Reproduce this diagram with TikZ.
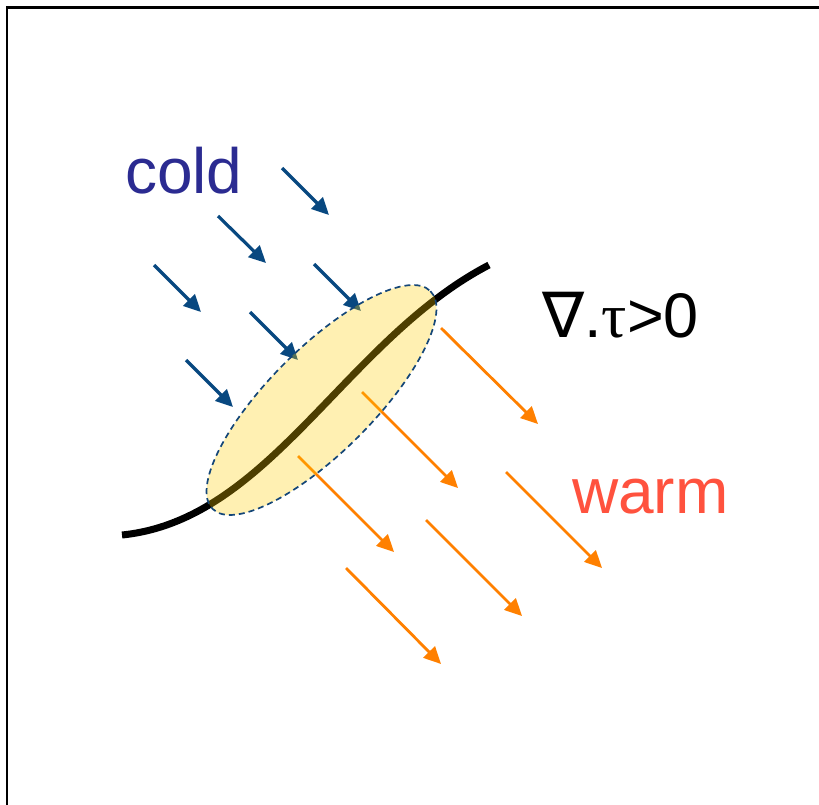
\documentclass[tikz,border=0pt]{standalone}
\usepackage{fontspec}
\setmainfont{Liberation Sans}
\newfontfamily\symfont{DejaVu Sans}
\newfontfamily\grkfont{Liberation Serif}
\usetikzlibrary{arrows.meta}
\definecolor{coldarrow}{RGB}{8,72,128}
\definecolor{warmarrow}{RGB}{255,128,0}
\definecolor{coldtext}{RGB}{43,43,145}
\definecolor{warmtext}{RGB}{255,82,62}
\definecolor{zonefill}{RGB}{255,206,0}
\definecolor{zoneedge}{RGB}{20,70,120}
\tikzset{
  coldflow/.style={draw=coldarrow, line width=3.2pt, -{Triangle[length=17pt,width=16pt]}},
  warmflow/.style={draw=warmarrow, line width=2.8pt, -{Triangle[length=17pt,width=16pt]}},
  front/.style={draw=black, line width=7pt},
  zone/.style={fill=zonefill, fill opacity=0.3, draw=zoneedge, draw opacity=1, dash pattern=on 6pt off 4pt, line width=1.7pt},
  lbl/.style={inner sep=0pt, anchor=base west}
}
\begin{document}
\begin{tikzpicture}[x=1pt,y=-1pt]
\useasboundingbox (0,0) rectangle (819,804);
\draw[line width=2.2pt] (7,830) -- (7,7.5) -- (840,7.5);
% text
\node[lbl, text=coldtext, font=\fontsize{64}{70}\selectfont] (cold) at (125,193) {cold};
\node[lbl, text=warmtext, font=\fontsize{64}{70}\selectfont] (warm) at (572,513) {warm};
\node[lbl, text=black, font=\fontsize{63}{70}\selectfont] (div) at (542,337) {{\symfont ∇}.{\grkfont τ}>0};
% cold arrows
\foreach \n/\xa/\ya/\xb/\yb in {c1/282/168/329/215, c2/218/216/266/263, c3/154/265/201/312, c4/314/264/361/311, c5/250/312/298/360, c6/186/360/233/407}{
  \coordinate (\n s) at (\xa,\ya);
  \coordinate (\n e) at (\xb,\yb);
  \draw[coldflow] (\n s) -- (\n e);
}
% front
\coordinate (fa) at (122,535);
\coordinate (fb) at (489,265);
\draw[front] (fa) .. controls (270,520) and (345,340) .. (fb);
% warm arrows
\foreach \n/\xa/\ya/\xb/\yb in {w1/441/328/538/424, w2/362/392/458/488, w3/298/456/394/552, w4/506/472/602/568, w5/426/520/522/616, w6/346/568/441/664}{
  \coordinate (\n s) at (\xa,\ya);
  \coordinate (\n e) at (\xb,\yb);
  \draw[warmflow] (\n s) -- (\n e);
}
% frontal zone
\draw[zone, rotate around={45:(321.5,400)}] (321.5,400) ellipse [x radius=154, y radius=52];
\end{tikzpicture}
\end{document}
